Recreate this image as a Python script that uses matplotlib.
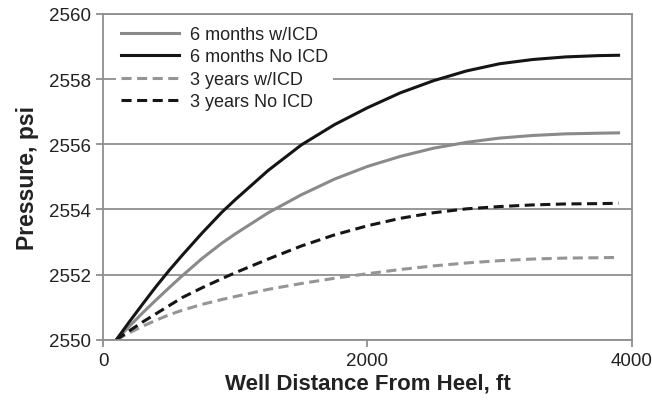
import numpy as np
import matplotlib.pyplot as plt

plt.rcParams['font.family'] = ['Liberation Sans', 'DejaVu Sans']

# distance from heel (ft)
dist = [100, 200, 300, 400, 500, 600, 750, 900, 1000, 1250, 1500, 1750,
        2000, 2250, 2500, 2750, 3000, 3250, 3500, 3750, 3900]

# pressure along the well (psi)
p_6mo_icd = [2550.0, 2550.42, 2550.83, 2551.22, 2551.6, 2551.97, 2552.5,
             2552.97, 2553.25, 2553.9, 2554.45, 2554.93, 2555.32, 2555.63,
             2555.88, 2556.06, 2556.19, 2556.27, 2556.32, 2556.34, 2556.35]
p_6mo_noicd = [2550.0, 2550.56, 2551.1, 2551.63, 2552.13, 2552.6, 2553.28,
               2553.92, 2554.3, 2555.2, 2555.98, 2556.6, 2557.12, 2557.58,
               2557.95, 2558.25, 2558.47, 2558.6, 2558.68, 2558.72, 2558.73]
p_3yr_icd = [2550.0, 2550.22, 2550.42, 2550.6, 2550.77, 2550.91, 2551.09,
             2551.24, 2551.33, 2551.55, 2551.73, 2551.89, 2552.03, 2552.16,
             2552.27, 2552.36, 2552.43, 2552.48, 2552.51, 2552.52, 2552.53]
p_3yr_noicd = [2550.0, 2550.28, 2550.55, 2550.8, 2551.05, 2551.3, 2551.6,
               2551.88, 2552.06, 2552.48, 2552.88, 2553.22, 2553.5, 2553.73,
               2553.9, 2554.02, 2554.09, 2554.14, 2554.17, 2554.18, 2554.19]

labels = ['6 months w/ICD', '6 months No ICD', '3 years w/ICD', '3 years No ICD']

fig = plt.figure(figsize=(6.52, 4.02), dpi=100)
ax = fig.add_axes([0.158, 0.152, 0.811, 0.811])

grey = '#8a8a8a'
dark = '#151515'
lw = 2.2
dash = (0, (3.3, 1.8))
ax.plot(dist, p_6mo_icd, color=grey, lw=lw, label=labels[0])
ax.plot(dist, p_6mo_noicd, color=dark, lw=lw, label=labels[1])
ax.plot(dist, p_3yr_icd, color='#959595', lw=lw, ls=dash, label=labels[2])
ax.plot(dist, p_3yr_noicd, color=dark, lw=lw, ls=dash, label=labels[3])

ax.set_xlim(0, 4000)
ax.set_ylim(2550, 2560)
ax.set_xticks([0, 2000, 4000])
ax.set_yticks(np.arange(2550, 2561, 2))
ax.yaxis.grid(True, color='#8f8f8f', lw=1.3)
ax.set_axisbelow(True)

for s in ax.spines.values():
    s.set_color('#8f8f8f')
    s.set_linewidth(1.3)
ax.tick_params(direction='out', length=5, width=1.3, color='#8f8f8f',
               labelsize=13.5, labelcolor='#222222')

ax.set_xlabel('Well Distance From Heel, ft', fontsize=16, fontweight='bold',
              color='#222222', labelpad=3)
ax.set_ylabel('Pressure, psi', fontsize=16.5, fontweight='bold',
              color='#222222', labelpad=7)

leg = ax.legend(loc='upper left', bbox_to_anchor=(0.0, 1.018), frameon=True,
                fontsize=13, handlelength=3.2, handletextpad=0.6,
                labelspacing=0.3, borderaxespad=0.7, borderpad=0.3)
leg.get_frame().set_edgecolor('none')
leg.get_frame().set_facecolor('white')
leg.get_frame().set_alpha(1.0)
for t in leg.get_texts():
    t.set_color('#222222')

fig.savefig('out.png', dpi=100)
